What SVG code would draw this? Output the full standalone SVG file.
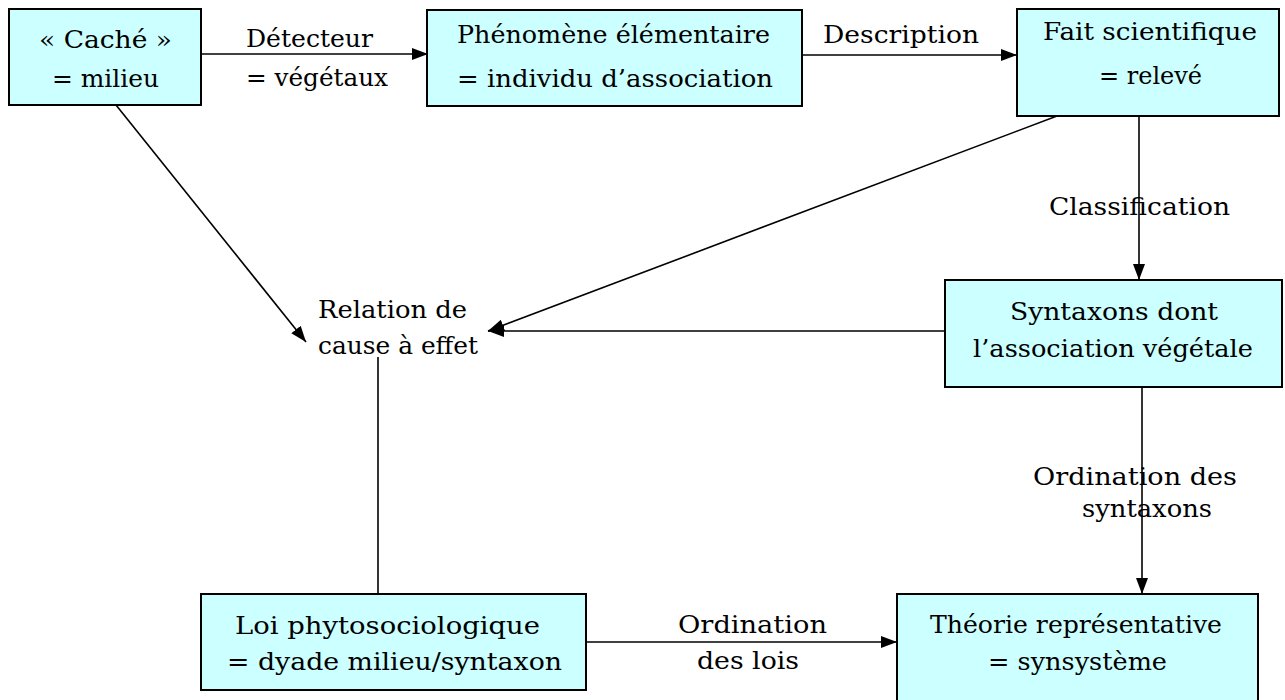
<svg xmlns="http://www.w3.org/2000/svg" width="1285" height="700" viewBox="0 0 1285 700">
<defs>
<style>
.box{fill:#ccffff;stroke:#000;stroke-width:2}
.t{font-family:"DejaVu Serif","Liberation Serif",serif;font-size:24.5px;fill:#000}
.ln{stroke:#000;stroke-width:1.6;fill:none}
.arr{marker-end:url(#ah)}
</style>
<marker id="ah" viewBox="0 0 16 12" refX="16" refY="6" markerWidth="16" markerHeight="12" markerUnits="userSpaceOnUse" orient="auto">
<path d="M0,0 L16,6 L0,12 Z" fill="#000"/>
</marker>
</defs>
<rect width="1285" height="700" fill="#fff"/>
<g id="connectors">
<line class="ln arr" x1="201" y1="54" x2="428" y2="54"/>
<line class="ln arr" x1="802" y1="55" x2="1017" y2="55"/>
<line class="ln arr" x1="116" y1="105" x2="306" y2="342"/>
<line class="ln arr" x1="1057" y1="116" x2="488" y2="331"/>
<line class="ln arr" x1="945" y1="331" x2="488" y2="331"/>
<line class="ln arr" x1="1139" y1="116" x2="1139" y2="280"/>
<line class="ln arr" x1="1142" y1="387" x2="1142" y2="594"/>
<line class="ln" x1="378" y1="357" x2="378" y2="594"/>
<line class="ln arr" x1="586" y1="642" x2="897" y2="642"/>
<text class="t" x="246" y="47" textLength="127" lengthAdjust="spacingAndGlyphs">Détecteur</text>
<text class="t" x="246" y="86" textLength="142" lengthAdjust="spacingAndGlyphs">= végétaux</text>
<text class="t" x="823" y="43" textLength="156" lengthAdjust="spacingAndGlyphs">Description</text>
<text class="t" x="1049" y="215" textLength="181" lengthAdjust="spacingAndGlyphs">Classification</text>
<text class="t" x="1033" y="485" textLength="204" lengthAdjust="spacingAndGlyphs">Ordination des</text>
<text class="t" x="1082" y="517" textLength="130" lengthAdjust="spacingAndGlyphs">syntaxons</text>
<text class="t" x="678" y="633" textLength="149" lengthAdjust="spacingAndGlyphs">Ordination</text>
<text class="t" x="697" y="669" textLength="102" lengthAdjust="spacingAndGlyphs">des lois</text>
</g>
<g id="node-cache">
<rect class="box" x="9" y="9" width="192" height="96"/>
<text class="t" x="39" y="48" textLength="133" lengthAdjust="spacingAndGlyphs">« Caché »</text>
<text class="t" x="52" y="87" textLength="107" lengthAdjust="spacingAndGlyphs">= milieu</text>
</g>
<g id="node-phenomene">
<rect class="box" x="427" y="10" width="375" height="96"/>
<text class="t" x="457" y="43" textLength="313" lengthAdjust="spacingAndGlyphs">Phénomène élémentaire</text>
<text class="t" x="457" y="87" textLength="316" lengthAdjust="spacingAndGlyphs">= individu d’association</text>
</g>
<g id="node-fait">
<rect class="box" x="1017" y="9" width="262" height="107"/>
<text class="t" x="1043" y="40" textLength="214" lengthAdjust="spacingAndGlyphs">Fait scientifique</text>
<text class="t" x="1099" y="84" textLength="103" lengthAdjust="spacingAndGlyphs">= relevé</text>
</g>
<g id="node-relation">
<text class="t" x="318" y="318" textLength="149" lengthAdjust="spacingAndGlyphs">Relation de</text>
<text class="t" x="318" y="354" textLength="160" lengthAdjust="spacingAndGlyphs">cause à effet</text>
</g>
<g id="node-syntaxons">
<rect class="box" x="945" y="280" width="337" height="107"/>
<text class="t" x="1010" y="320" textLength="208" lengthAdjust="spacingAndGlyphs">Syntaxons dont</text>
<text class="t" x="973" y="357" textLength="280" lengthAdjust="spacingAndGlyphs">l’association végétale</text>
</g>
<g id="node-loi">
<rect class="box" x="201" y="594" width="385" height="96"/>
<text class="t" x="235" y="634" textLength="305" lengthAdjust="spacingAndGlyphs">Loi phytosociologique</text>
<text class="t" x="227" y="670" textLength="335" lengthAdjust="spacingAndGlyphs">= dyade milieu/syntaxon</text>
</g>
<g id="node-theorie">
<rect class="box" x="897" y="594" width="361" height="130"/>
<text class="t" x="930" y="633" textLength="292" lengthAdjust="spacingAndGlyphs">Théorie représentative</text>
<text class="t" x="988" y="670" textLength="179" lengthAdjust="spacingAndGlyphs">= synsystème</text>
</g>
</svg>
